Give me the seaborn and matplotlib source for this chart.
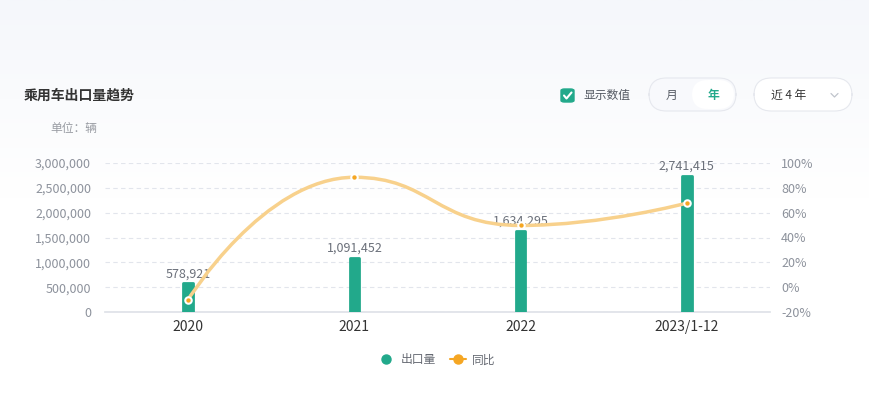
import numpy as np
import pandas as pd
import seaborn as sns
import matplotlib.pyplot as plt
from matplotlib.path import Path
from matplotlib.patches import PathPatch, FancyBboxPatch
from matplotlib.lines import Line2D
from matplotlib.ticker import FuncFormatter

# data
years = ["2020", "2021", "2022", "2023/1-12"]
export_volume = [578921, 1091452, 1634295, 2741415]
yoy_growth = [-0.10, 0.885, 0.497, 0.677]

GREEN = "#22a98b"
LINE_ORANGE = "#f8d18c"
DOT_ORANGE = "#f5a623"
TICK_GRAY = "#8d929c"


def smooth_path(xs, ys, smooth=0.5):
    """Bezier path like the echarts smoothed line (control points clamped)."""
    n = len(xs)
    verts = [(xs[0], ys[0])]
    codes = [Path.MOVETO]
    cp0 = (xs[0], ys[0])
    for i in range(1, n):
        x, y = xs[i], ys[i]
        if i == n - 1:
            verts += [cp0, (x, y), (x, y)]
            codes += [Path.CURVE4] * 3
            break
        px_, py_ = xs[i - 1], ys[i - 1]
        nx_, ny_ = xs[i + 1], ys[i + 1]
        vx, vy = nx_ - px_, ny_ - py_
        lp = np.hypot(x - px_, y - py_)
        ln = np.hypot(nx_ - x, ny_ - y)
        r = ln / (ln + lp)
        cx1 = x + vx * smooth * r
        cy1 = y + vy * smooth * r
        cx0 = x - vx * smooth * (1 - r)
        cy0 = y - vy * smooth * (1 - r)
        # clamp next-side control point, then mirror
        cx1 = min(max(cx1, min(nx_, x)), max(nx_, x))
        cy1 = min(max(cy1, min(ny_, y)), max(ny_, y))
        vx, vy = cx1 - x, cy1 - y
        cx0 = x - vx * lp / ln
        cy0 = y - vy * lp / ln
        # clamp prev-side control point, then mirror
        cx0 = min(max(cx0, min(px_, x)), max(px_, x))
        cy0 = min(max(cy0, min(py_, y)), max(py_, y))
        vx, vy = x - cx0, y - cy0
        cx1 = x + vx * ln / lp
        cy1 = y + vy * ln / lp
        verts += [cp0, (cx0, cy0), (x, y)]
        codes += [Path.CURVE4] * 3
        cp0 = (cx1, cy1)
    return np.array(verts), codes


sns.set_theme(style="white")
plt.rcParams["font.family"] = ["Noto Sans CJK SC", "DejaVu Sans"]

fig = plt.figure(figsize=(8.69, 3.94), dpi=100)

# soft background gradient
bg = fig.add_axes([0, 0, 1, 1], zorder=-10)
grad = np.linspace(0, 1, 256).reshape(-1, 1)
bg.imshow(grad, aspect="auto", extent=[0, 1, 0, 1], origin="lower",
          cmap=sns.blend_palette(["#ffffff", "#ffffff", "#f5f7fb"], as_cmap=True))
bg.set_axis_off()

ax = fig.add_axes([105 / 869, 1 - 312 / 394, 665 / 869, 149 / 394])
ax.set_facecolor("none")

df = pd.DataFrame({"year": years, "volume": export_volume})
sns.barplot(data=df, x="year", y="volume", order=years, color=GREEN,
            width=0.058, saturation=1, ax=ax, zorder=3)
for p in ax.patches:
    p.set_edgecolor(GREEN)
    p.set_linewidth(2)
    p.set_joinstyle("round")

for i, v in enumerate(export_volume):
    ax.text(i, v + 60000, f"{v:,}", ha="center", va="bottom",
            fontsize=9, color="#6b707a", zorder=3.5)

ax.set_ylim(0, 3000000)
ax.set_xlim(-0.5, 3.5)
ax.set_yticks(np.arange(0, 3000001, 500000))
ax.yaxis.set_major_formatter(FuncFormatter(lambda v, _: f"{int(v):,}"))
ax.grid(axis="y", color="#e2e5ec", linestyle=(0, (4, 3)), linewidth=0.8, zorder=0)
ax.set_xlabel("")
ax.set_ylabel("")
for s in ["top", "right", "left"]:
    ax.spines[s].set_visible(False)
ax.spines["bottom"].set_color("#dfe2e8")
ax.tick_params(axis="y", length=0, labelsize=9, labelcolor=TICK_GRAY, pad=10)
ax.tick_params(axis="x", length=0, labelsize=10, labelcolor="#333333", pad=6)

ax2 = ax.twinx()
ax2.set_ylim(-0.2, 1.0)
ax2.set_yticks(np.arange(-0.2, 1.01, 0.2))
ax2.yaxis.set_major_formatter(FuncFormatter(lambda v, _: f"{round(v * 100)}%"))
for s in ax2.spines.values():
    s.set_visible(False)
ax2.tick_params(axis="y", length=0, labelsize=9, labelcolor=TICK_GRAY, pad=8)

# smoothed yoy line, computed in pixel space then mapped back to data units
W, H = 665.0, 149.0
n = len(years)
px = [(i + 0.5) / n * W for i in range(n)]
py = [(v + 0.2) / 1.2 * H for v in yoy_growth]
verts, codes = smooth_path(px, py, 0.5)
data_verts = np.column_stack([verts[:, 0] / W * n - 0.5, verts[:, 1] / H * 1.2 - 0.2])
ax2.add_patch(PathPatch(Path(data_verts, codes), fill=False, edgecolor=LINE_ORANGE,
                        linewidth=2.5, zorder=4, capstyle="round"))
ax2.scatter(range(n), yoy_growth, s=38, color="white", zorder=5, linewidths=0)
ax2.scatter(range(n), yoy_growth, s=10, color=DOT_ORANGE, zorder=6, linewidths=0)

# header texts
fig.text(24 / 869, 1 - 96 / 394, "乘用车出口量趋势", fontsize=10, color="#333333",
         fontweight="bold", va="center")
fig.text(50 / 869, 1 - 129 / 394, "单位：辆", fontsize=8.5, color="#999ca3", va="center")

# checkbox
fig.patches.append(FancyBboxPatch((561 / 869, 1 - 102 / 394), 13 / 869, 13 / 394,
                                  boxstyle="round,pad=0,rounding_size=0.004",
                                  transform=fig.transFigure, facecolor=GREEN,
                                  edgecolor=GREEN))
fig.lines.append(Line2D([564 / 869, 566.5 / 869, 571.5 / 869],
                        [1 - 95.5 / 394, 1 - 98.5 / 394, 1 - 92.5 / 394],
                        transform=fig.transFigure, color="white", linewidth=1.5))
fig.text(583 / 869, 1 - 95 / 394, "显示数值", fontsize=8.5, color="#555a63", va="center")

# month / year toggle
fig.patches.append(FancyBboxPatch((649 / 869, 1 - 111 / 394), 87 / 869, 33 / 394,
                                  boxstyle="round,pad=0,rounding_size=0.02",
                                  transform=fig.transFigure, facecolor="#f8f9fc",
                                  edgecolor="#e6e8ee", linewidth=0.8, mutation_aspect=2.2))
fig.patches.append(FancyBboxPatch((692 / 869, 1 - 109 / 394), 42 / 869, 29 / 394,
                                  boxstyle="round,pad=0,rounding_size=0.018",
                                  transform=fig.transFigure, facecolor="white",
                                  edgecolor="none", mutation_aspect=2.2))
fig.text(671 / 869, 1 - 95 / 394, "月", fontsize=8.5, color="#555a63", va="center", ha="center")
fig.text(713 / 869, 1 - 95 / 394, "年", fontsize=8.5, color=GREEN, va="center",
         ha="center", fontweight="bold")

# dropdown
fig.patches.append(FancyBboxPatch((754 / 869, 1 - 111 / 394), 98 / 869, 33 / 394,
                                  boxstyle="round,pad=0,rounding_size=0.02",
                                  transform=fig.transFigure, facecolor="white",
                                  edgecolor="#e6e8ee", linewidth=0.8, mutation_aspect=2.2))
fig.text(771 / 869, 1 - 95 / 394, "近 4 年", fontsize=8.5, color="#333333", va="center")
fig.lines.append(Line2D([831 / 869, 834.5 / 869, 838 / 869],
                        [1 - 93.5 / 394, 1 - 97 / 394, 1 - 93.5 / 394],
                        transform=fig.transFigure, color="#c0c4cc", linewidth=0.9))

# legend
handles = [
    Line2D([], [], marker="o", linestyle="none", markersize=6.5, color=GREEN),
    Line2D([], [], marker="o", linestyle="-", markersize=6.5, color=DOT_ORANGE, linewidth=1.5),
]
fig.legend(handles, ["出口量", "同比"], loc="center", bbox_to_anchor=(437 / 869, 1 - 360 / 394),
           ncol=2, frameon=False, fontsize=8.5, labelcolor="#666a73", handlelength=1.4,
           handletextpad=0.5, columnspacing=1.2)

fig.savefig("out.png", dpi=100)
